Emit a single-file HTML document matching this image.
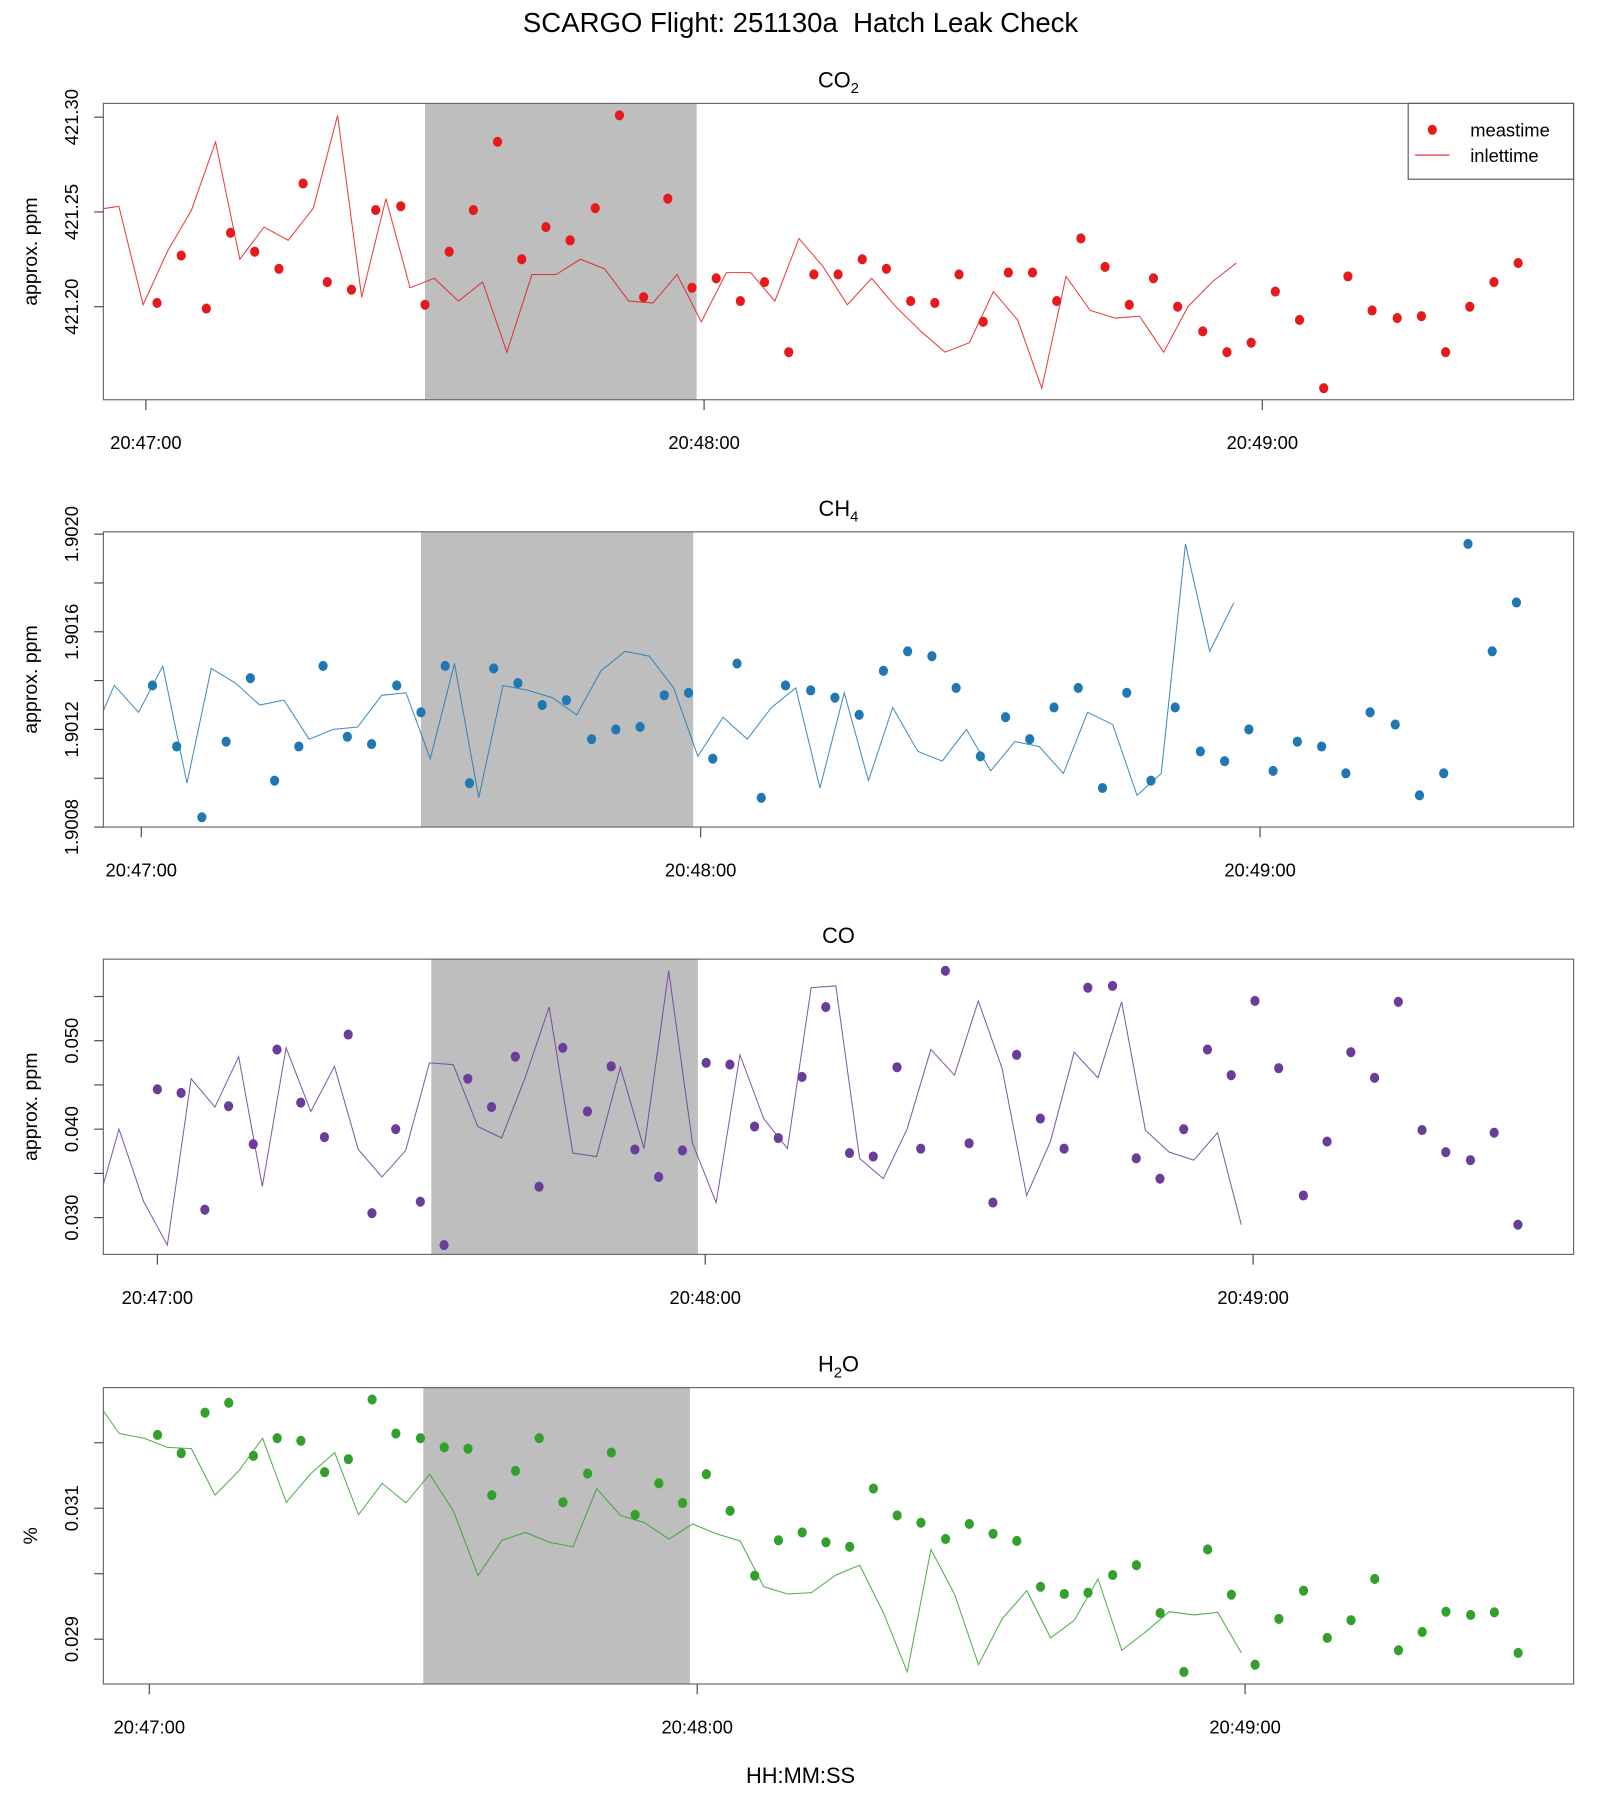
<!DOCTYPE html>
<html><head><meta charset="utf-8"><title>SCARGO Flight 251130a Hatch Leak Check</title>
<style>
html,body{margin:0;padding:0;background:#fff;}
svg{display:block;font-family:"Liberation Sans",Arial,sans-serif;}
</style></head>
<body>
<svg id="chart" width="1600" height="1800" viewBox="0 0 1393 1567" preserveAspectRatio="none" xmlns="http://www.w3.org/2000/svg">
<rect x="0" y="0" width="1393" height="1567" fill="#fff"/>
<text x="697" y="28" font-size="24" text-anchor="middle" xml:space="preserve" style="white-space:pre">SCARGO Flight: 251130a  Hatch Leak Check</text>
<text x="697" y="1552" font-size="19" text-anchor="middle">HH:MM:SS</text>
</svg>
<script>
// ---- data ----
const timesA = [1.2,3.8,6.5,9.1,11.7,14.3,16.9,19.5,22.1,24.7,27.4,30.0,32.6,35.2,37.8,40.4,43.0,45.6,48.3,50.9,53.5,56.1,58.7,61.3,63.9,66.5,69.1,71.8,74.4,77.0,79.6,82.2,84.8,87.4,90.0,92.7,95.3,97.9,100.5,103.1,105.7,108.3,110.9,113.6,116.2,118.8,121.4,124.0,126.6,129.2,131.8,134.5,137.1,139.7,142.3,144.9,147.5];
const timesB = [0,2.6,5.2,7.8,10.5,13.1,15.7,18.3,20.9,23.5,26.1,28.8,31.4,34.0,36.6,39.2,41.8,44.4,47.1,49.7,52.3,54.9,57.5,60.1,62.7,65.4,68.0,70.6,73.2,75.8,78.4,81.0,83.6,86.3,88.9,91.5,94.1,96.7,99.3,101.9,104.6,107.2,109.8,112.4,115.0,117.6,120.2,122.8,125.5,128.1,130.7,133.3,135.9,138.5,141.1,143.8,146.4,149.0];
const timesD = [0.9,3.5,6.1,8.7,11.4,14.0,16.6,19.2,21.8,24.4,27.0,29.7,32.3,34.9,37.5,40.1,42.7,45.3,48.0,50.6,53.2,55.8,58.4,61.0,63.6,66.3,68.9,71.5,74.1,76.7,79.3,81.9,84.5,87.2,89.8,92.4,95.0,97.6,100.2,102.8,105.5,108.1,110.7,113.3,115.9,118.5,121.1,123.7,126.4,129.0,131.6,134.2,136.8,139.4,142.0,144.7,147.3,149.9];
const co2Values = [421.202,421.227,421.199,421.239,421.229,421.220,421.265,421.213,421.209,421.251,421.253,421.201,421.229,421.251,421.287,421.225,421.242,421.235,421.252,421.301,421.205,421.257,421.210,421.215,421.203,421.213,421.176,421.217,421.217,421.225,421.220,421.203,421.202,421.217,421.192,421.218,421.218,421.203,421.236,421.221,421.201,421.215,421.200,421.187,421.176,421.181,421.208,421.193,421.157,421.216,421.198,421.194,421.195,421.176,421.200,421.213,421.223];
const ch4Values = [1.90138,1.90113,1.90084,1.90115,1.90141,1.90099,1.90113,1.90146,1.90117,1.90114,1.90138,1.90127,1.90146,1.90098,1.90145,1.90139,1.90130,1.90132,1.90116,1.90120,1.90121,1.90134,1.90135,1.90108,1.90147,1.90092,1.90138,1.90136,1.90133,1.90126,1.90144,1.90152,1.90150,1.90137,1.90109,1.90125,1.90116,1.90129,1.90137,1.90096,1.90135,1.90099,1.90129,1.90111,1.90107,1.90120,1.90103,1.90115,1.90113,1.90102,1.90127,1.90122,1.90093,1.90102,1.90196,1.90152,1.90172];
const coValues = [0.0445,0.0441,0.0309,0.0426,0.0383,0.0490,0.0430,0.0391,0.0507,0.0305,0.0400,0.0318,0.0269,0.0457,0.0425,0.0482,0.0335,0.0492,0.0420,0.0471,0.0377,0.0346,0.0376,0.0475,0.0473,0.0403,0.0390,0.0459,0.0538,0.0373,0.0369,0.0470,0.0378,0.0579,0.0384,0.0317,0.0484,0.0412,0.0378,0.0560,0.0562,0.0367,0.0344,0.0400,0.0490,0.0461,0.0545,0.0469,0.0325,0.0386,0.0487,0.0458,0.0544,0.0399,0.0374,0.0365,0.0396,0.0292];
const h2oValues = [0.03212,0.03184,0.03246,0.03261,0.03180,0.03207,0.03203,0.03155,0.03175,0.03266,0.03214,0.03207,0.03193,0.03191,0.03120,0.03157,0.03207,0.03109,0.03153,0.03185,0.03090,0.03138,0.03108,0.03152,0.03096,0.02997,0.03051,0.03063,0.03048,0.03041,0.03130,0.03089,0.03078,0.03053,0.03076,0.03061,0.03050,0.02980,0.02969,0.02971,0.02998,0.03013,0.02940,0.02850,0.03037,0.02968,0.02861,0.02931,0.02974,0.02902,0.02929,0.02992,0.02883,0.02911,0.02942,0.02937,0.02941,0.02879];
const inletLag = 30.3;
const xTickTimes = [0, 60, 120];
const xTickLabels = ["20:47:00", "20:48:00", "20:49:00"];
const shadeStart = 30.0;
const shadeEnd = 59.2;
const co2Ticks = [421.20, 421.25, 421.30];
const co2TickLabels = ["421.20", "421.25", "421.30"];
const ch4Ticks = [1.9008, 1.9010, 1.9012, 1.9014, 1.9016, 1.9018, 1.9020];
const ch4TickLabels = ["1.9008", "", "1.9012", "", "1.9016", "", "1.9020"];
const coTicks = [0.030, 0.035, 0.040, 0.045, 0.050, 0.055];
const coTickLabels = ["0.030", "", "0.040", "", "0.050", ""];
const h2oTicks = [0.029, 0.030, 0.031, 0.032];
const h2oTickLabels = ["0.029", "", "0.031", ""];

const NS = "http://www.w3.org/2000/svg";
const svg = document.getElementById("chart");
function mk(tag, attrs, parent) {
  const e = document.createElementNS(NS, tag);
  for (const k in attrs) e.setAttribute(k, attrs[k]);
  (parent || svg).appendChild(e);
  return e;
}
const L = 90, R = 1370;

const panels = [
  {key:"co2", title:"CO", sub:"2", top:90, bot:348, x0:127, k:8.1, times:timesA, vals:co2Values, color:"#E41A1C",
   vRef:421.20, yRef:267, s:1650, ticks:co2Ticks, tlab:co2TickLabels, ytitle:"approx. ppm", legend:true},
  {key:"ch4", title:"CH", sub:"4", top:463, bot:720, x0:123, k:8.117, times:timesA, vals:ch4Values, color:"#1F78B4",
   vRef:1.9008, yRef:720, s:212500, ticks:ch4Ticks, tlab:ch4TickLabels, ytitle:"approx. ppm"},
  {key:"co", title:"CO", sub:"", top:835, bot:1092, x0:137, k:7.95, times:timesB, vals:coValues, color:"#6A3D9A",
   vRef:0.030, yRef:1060, s:7700, ticks:coTicks, tlab:coTickLabels, ytitle:"approx. ppm"},
  {key:"h2o", title:"H", sub:"2", tail:"O", top:1208, bot:1466, x0:130, k:7.95, times:timesD, vals:h2oValues, color:"#33A02C",
   vRef:0.029, yRef:1427, s:57000, ticks:h2oTicks, tlab:h2oTickLabels, ytitle:"%"}
];

panels.forEach((p, pi) => {
  const xs = t => p.x0 + p.k * t;
  const ys = v => p.yRef - (v - p.vRef) * p.s;
  const g = mk("g", {});
  
  

  const cid = "clip" + pi;
  const cp = mk("clipPath", {id: cid}, g);
  mk("rect", {x: L, y: p.top, width: R - L, height: p.bot - p.top}, cp);

  const sh = mk("rect", {x: xs(shadeStart), y: p.top, width: xs(shadeEnd) - xs(shadeStart), height: p.bot - p.top, fill: "#BEBEBE"}, g);
  
  

  const pts = p.times.map((t, i) => xs(t - inletLag).toFixed(1) + "," + ys(p.vals[i]).toFixed(1)).join(" ");
  const line = mk("polyline", {points: pts, fill: "none", stroke: p.color, "stroke-width": 0.9, "clip-path": "url(#" + cid + ")", opacity: 0.85}, g);
  
  

  p.times.forEach((t, i) => {
    const c = mk("ellipse", {cx: xs(t), cy: ys(p.vals[i]), rx: 4, ry: 4.4, fill: p.color}, g);
    
    
  });

  const box = mk("rect", {x: L, y: p.top, width: R - L, height: p.bot - p.top, fill: "none", stroke: "#666", "stroke-width": 1}, g);
  
  

  xTickTimes.forEach((t, i) => {
    const tx = xs(t);
    const tk = mk("line", {x1: tx, y1: p.bot, x2: tx, y2: p.bot + 9, stroke: "#444", "stroke-width": 1}, g);
    
    
    const lb = mk("text", {x: tx, y: p.bot + 43, "font-size": 16, "text-anchor": "middle"}, g);
    lb.textContent = xTickLabels[i];
    
    
  });

  p.ticks.forEach((v, i) => {
    const ty = ys(v);
    const tk = mk("line", {x1: L - 8, y1: ty, x2: L, y2: ty, stroke: "#444", "stroke-width": 1}, g);
    
    
    if (p.tlab[i]) {
      const lb = mk("text", {x: 0, y: 0, "font-size": 16, "text-anchor": "middle", transform: "translate(68," + ty + ") rotate(-90)"}, g);
      lb.textContent = p.tlab[i];
      
      
    }
  });

  const yt = mk("text", {x: 0, y: 0, "font-size": 17, "text-anchor": "middle", transform: "translate(32," + ((p.top + p.bot) / 2) + ") rotate(-90)"}, g);
  yt.textContent = p.ytitle;
  
  

  const tt = mk("text", {x: 730, y: p.top - 14, "font-size": 19, "text-anchor": "middle"}, g);
  
  
  const t1 = mk("tspan", {}, tt); t1.textContent = p.title;
  if (p.sub) { const t2 = mk("tspan", {"font-size": 13, dy: 5}, tt); t2.textContent = p.sub; }
  if (p.tail) { const t3 = mk("tspan", {dy: -5}, tt); t3.textContent = p.tail; }

  if (p.legend) {
    const lg = mk("g", {}, g);
    
    
    mk("rect", {x: 1226, y: 90, width: 144, height: 66, fill: "#fff", stroke: "#555", "stroke-width": 1}, lg);
    const e1 = mk("ellipse", {cx: 1247, cy: 113, rx: 4, ry: 4.4, fill: p.color}, lg);
    
    
    const l1 = mk("line", {x1: 1232, y1: 135, x2: 1262, y2: 135, stroke: p.color, "stroke-width": 1}, lg);
    
    
    const a = mk("text", {x: 1280, y: 119, "font-size": 16}, lg);
    a.textContent = "meastime";
    
    
    const b = mk("text", {x: 1280, y: 141, "font-size": 16}, lg);
    b.textContent = "inlettime";
    
    
  }
});
</script>
</body></html>
